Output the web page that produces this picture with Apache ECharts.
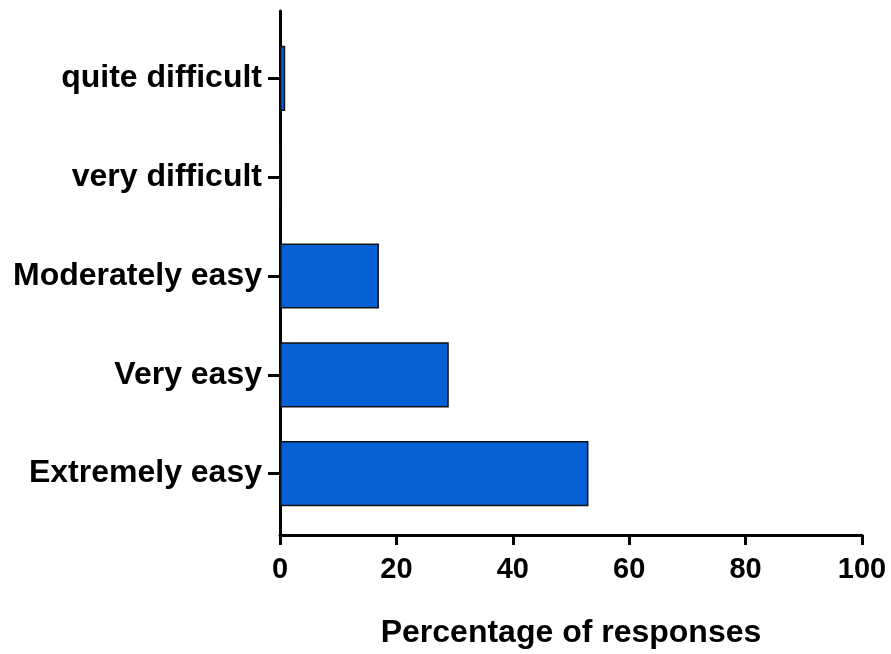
<!DOCTYPE html>
<html>
<head>
<meta charset="utf-8">
<script src="https://cdn.jsdelivr.net/npm/echarts@6/dist/echarts.min.js"></script>
<style>html,body{margin:0;padding:0;background:#fff;}#chart{width:891px;height:654px;}</style>
</head>
<body>
<div id="chart"></div>
<script>
const categories = ['Extremely easy', 'Very easy', 'Moderately easy', 'very difficult', 'quite difficult'];
const values = [53, 29, 17, 0, 0.9];
const xTicks = [0, 20, 40, 60, 80, 100];
const xTitle = 'Percentage of responses';

const FONT = 'Liberation Sans, Arial, sans-serif';
const chart = echarts.init(document.getElementById('chart'));
chart.setOption({
  animation: false,
  backgroundColor: '#fff',
  grid: [
    {left: 280, right: 29, top: 11, bottom: 116},
    {left: 280, right: 29, top: 29, bottom: 131}
  ],
  xAxis: [
    {
      gridIndex: 0, type: 'value', min: xTicks[0], max: xTicks[xTicks.length - 1], interval: 20,
      axisLine: {show: true, onZero: false, lineStyle: {color: '#000', width: 3}},
      axisTick: {show: true, length: 10, lineStyle: {color: '#000', width: 3}},
      splitLine: {show: false},
      axisLabel: {margin: 20, color: '#000', fontFamily: FONT, fontWeight: 'bold', fontSize: 29},
      name: xTitle, nameLocation: 'middle', nameGap: 82,
      nameTextStyle: {color: '#000', fontFamily: FONT, fontWeight: 'bold', fontSize: 32}
    },
    {gridIndex: 1, type: 'value', min: 0, max: 100, show: false}
  ],
  yAxis: [
    {
      gridIndex: 0, type: 'value', min: 0, max: 1,
      axisLine: {show: true, onZero: false, lineStyle: {color: '#000', width: 3}},
      axisTick: {show: false}, axisLabel: {show: false}, splitLine: {show: false}
    },
    {
      gridIndex: 1, type: 'category', data: categories,
      axisLine: {show: false},
      axisTick: {show: true, alignWithLabel: true, length: 12, lineStyle: {color: '#000', width: 3}},
      axisLabel: {margin: 18, color: '#000', fontFamily: FONT, fontWeight: 'bold', fontSize: 32},
      splitLine: {show: false}
    }
  ],
  series: [{
    type: 'bar', xAxisIndex: 1, yAxisIndex: 1,
    data: values, barWidth: '66%',
    itemStyle: {color: '#0561d3', borderColor: '#111', borderWidth: 1.5}
  }]
});
</script>
</body>
</html>
